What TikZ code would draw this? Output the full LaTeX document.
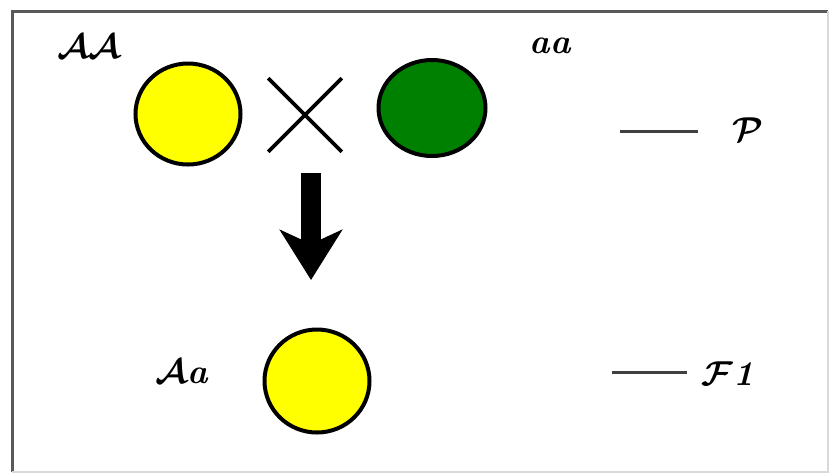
\documentclass[tikz,border=0pt]{standalone}
\usetikzlibrary{shapes.geometric,shapes.misc,arrows.meta}
\definecolor{seedyellow}{RGB}{255,255,0}
\definecolor{seedgreen}{RGB}{0,128,0}
\tikzset{
    seed/.style={ellipse, draw=black, line width=2pt, inner sep=0pt},
    gene/.style={font=\fontsize{17.28}{20}\selectfont\bfseries\itshape\boldmath, inner sep=0pt},
    genline/.style={draw=black!75, line width=1.5pt},
}
\begin{document}
\begin{tikzpicture}[x=0.5pt,y=-0.5pt]
    \useasboundingbox (0,0) rectangle (829,473);

    % Bingkai
    \draw[black!65, line width=1.5pt] (12,472) -- (12,11) -- (828,11);
    \draw[black!15, line width=1pt] (828,11) -- (828,472) -- (12,472);

    % Induk (P)
    \node[seed, fill=seedyellow, minimum width=52.5pt, minimum height=50.5pt] (parentAA) at (188,114) {};
    \node[cross out, draw=black, line width=1.8pt, minimum size=35pt] (cross) at (305,115) {};
    \node[seed, fill=seedgreen, minimum width=53.5pt, minimum height=48pt] (parentaa) at (432,108) {};
    \node[gene] (labelAA) at (89,47) {$\mathcal{A}\mathcal{A}$};
    \node[gene] (labelaa) at (550,46) {aa};

    % Keturunan (F1)
    \node[seed, fill=seedyellow, minimum width=52.5pt, minimum height=51.5pt] (child) at (317,381) {};
    \node[gene] (labelAa) at (182,372) {$\mathcal{A}$a};

    % Panah persilangan
    \coordinate (arrowtop) at (311,173);
    \coordinate (arrowtip) at (311,280);
    \draw[line width=10pt, -{Stealth[length=25pt, width=31pt, inset=7pt]}] (arrowtop) -- (arrowtip);

    % Keterangan generasi
    \node[gene, outer xsep=17.5pt] (labelP) at (748,130) {$\mathcal{P}$};
    \node[gene, outer xsep=7.5pt] (labelF) at (728,374) {$\mathcal{F}$1};
    \coordinate (genP) at (620,131);
    \coordinate (genF) at (612,372);
    \draw[genline] (genP) -- (genP -| labelP.west);
    \draw[genline] (genF) -- (genF -| labelF.west);
\end{tikzpicture}
\end{document}
